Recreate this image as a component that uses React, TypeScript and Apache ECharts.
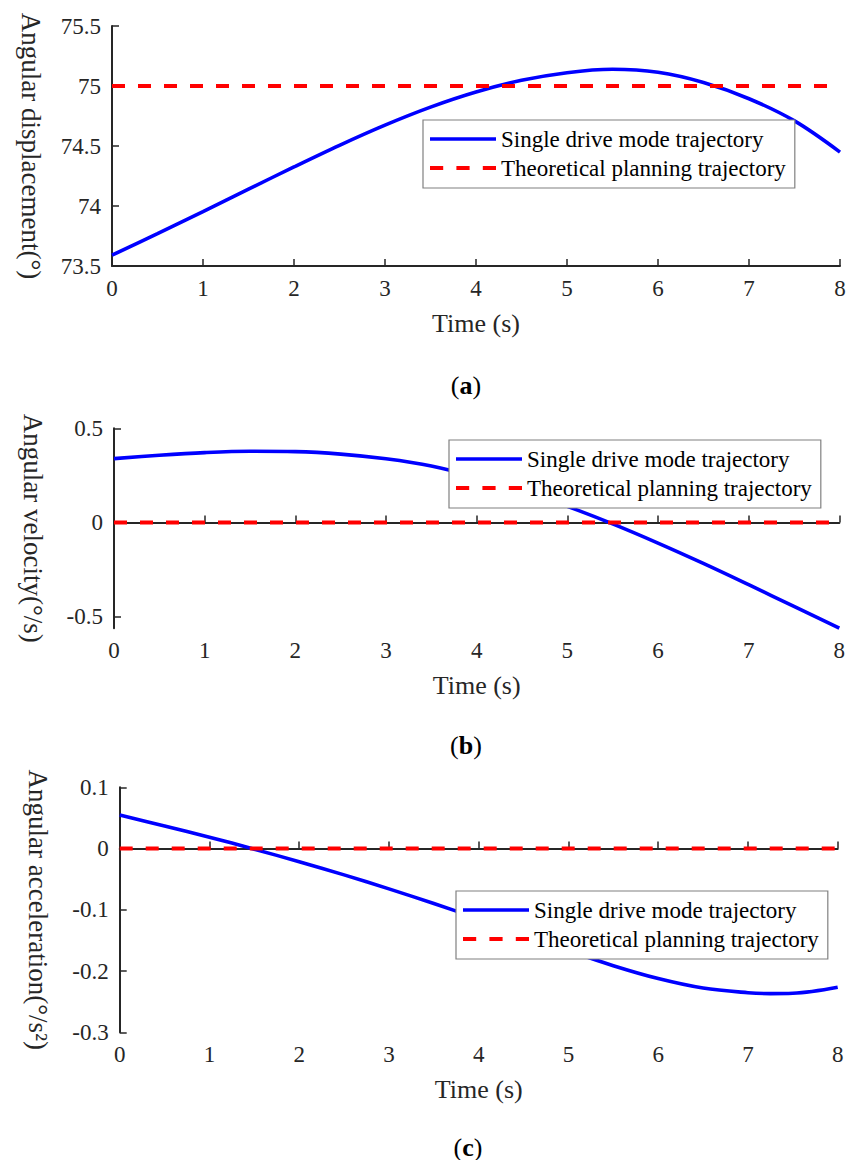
import React, { useEffect, useRef } from "react";
import * as echarts from "echarts";

// ---- data ----
const time = [0, 0.5, 1, 1.5, 2, 2.5, 3, 3.5, 4, 4.5, 5, 5.5, 6, 6.5, 7, 7.5, 8];
const dispSingle = [73.59, 73.77, 73.954, 74.14, 74.326, 74.506, 74.674, 74.824, 74.95, 75.047, 75.111, 75.139, 75.114, 75.029, 74.894, 74.709, 74.449];
const velSingle = [0.339, 0.357, 0.371, 0.378, 0.376, 0.363, 0.338, 0.3, 0.24, 0.167, 0.085, -0.008, -0.11, -0.218, -0.331, -0.446, -0.562];
const accTime = [0, 0.5, 1, 1.5, 2, 2.5, 3, 3.5, 4, 4.5, 5, 5.5, 6, 6.5, 7, 7.25, 7.5, 8];
const accSingle = [0.0546, 0.037, 0.0185, -0.001, -0.0215, -0.043, -0.0658, -0.0898, -0.1148, -0.1408, -0.1668, -0.1913, -0.2123, -0.2278, -0.2353, -0.2368, -0.2363, -0.2265];
const theoryTime = [0, 8];
const dispTheory = [75, 75];
const velTheory = [0, 0];
const accTheory = [0, 0];

const legendNames = ["Single drive mode trajectory", "Theoretical planning trajectory"];
const yNames = ["Angular displacement(°)", "Angular velocity(°/s)", "Angular acceleration(°/s²)"];
const xName = "Time (s)";
const panelLetters = ["a", "b", "c"];
const yMins = [73.5, -0.5626, -0.3];
const yMaxs = [75.5, 0.5, 0.1];
const yIntervals = [0.5, 0.5, 0.1];
const velTicks = [-0.5, 0, 0.5];

const FONT = "'Liberation Serif', 'Times New Roman', serif";
const AXIS_COLOR = "#262626";
const BLUE = "#0000ff";
const RED = "#ff0000";

// legend icons: solid line and dashed line drawn as paths
const solidIcon = "path://M0,0H66V3.4H0Z";
const dashedIcon = "path://M0,0H13V3.8H0Z M26,0H39V3.8H26Z M52,0H65V3.8H52Z";

// layout (pixels)
const grids = [
  { left: 112, top: 26, width: 728, height: 240 },
  { left: 114, top: 428.3, width: 725.3, height: 200 },
  { left: 119.7, top: 787.3, width: 718, height: 245 },
];
const legendPos = [
  { left: 423, top: 120 },
  { left: 449, top: 440 },
  { left: 456, top: 891 },
];
const panelLabelPos = [
  { x: 466, y: 385 },
  { x: 466, y: 745 },
  { x: 468, y: 1147 },
];

export default function App() {
  const ref = useRef<HTMLDivElement>(null);
  useEffect(() => {
    if (!ref.current) return;
    const chart = echarts.init(ref.current, null, { renderer: "svg" });
    const singleTimes = [time, time, accTime];
    const singles = [dispSingle, velSingle, accSingle];
    const theories = [dispTheory, velTheory, accTheory];

    const xAxis = grids.map((_, i) => ({
      type: "value",
      gridIndex: i,
      min: 0,
      max: 8,
      interval: 1,
      name: xName,
      nameLocation: "middle",
      nameGap: 44,
      nameTextStyle: { fontFamily: FONT, fontSize: 26, color: AXIS_COLOR },
      axisLine: { show: true, lineStyle: { color: AXIS_COLOR, width: 2 } },
      axisTick: { show: true, inside: true, length: 7, lineStyle: { color: AXIS_COLOR, width: 1.5 } },
      axisLabel: { fontFamily: FONT, fontSize: 23, color: AXIS_COLOR, margin: 11, showMinLabel: true, showMaxLabel: true },
      splitLine: { show: false },
    }));

    const yAxis = grids.map((_, i) => {
      const base: any = {
        type: "value",
        gridIndex: i,
        min: yMins[i],
        max: yMaxs[i],
        name: yNames[i],
        nameLocation: "middle",
        nameRotate: -90,
        nameGap: 68,
        nameTextStyle: { fontFamily: FONT, fontSize: 27, color: AXIS_COLOR },
        axisLine: { show: true, lineStyle: { color: AXIS_COLOR, width: 2 } },
        axisTick: { show: true, inside: true, length: 7, lineStyle: { color: AXIS_COLOR, width: 1.5 } },
        axisLabel: { fontFamily: FONT, fontSize: 23, color: AXIS_COLOR, margin: 11, showMinLabel: true, showMaxLabel: true },
        splitLine: { show: false },
      };
      if (i === 1) {
        base.axisLabel.customValues = velTicks;
        base.axisTick.customValues = velTicks;
      } else {
        base.interval = yIntervals[i];
      }
      return base;
    });

    const series: any[] = [];
    grids.forEach((_, i) => {
      series.push({
        type: "line",
        name: legendNames[0],
        xAxisIndex: i,
        yAxisIndex: i,
        data: singleTimes[i].map((t, k) => [t, singles[i][k]]),
        symbol: "none",
        showSymbol: false,
        smooth: 0.35,
        lineStyle: { color: BLUE, width: 3.6 },
        itemStyle: { color: BLUE },
        z: 2,
      });
      series.push({
        type: "line",
        name: legendNames[1],
        xAxisIndex: i,
        yAxisIndex: i,
        data: theoryTime.map((t, k) => [t, theories[i][k]]),
        symbol: "none",
        showSymbol: false,
        lineStyle: { color: RED, width: 4, type: [13, 13] },
        itemStyle: { color: RED },
        z: 3,
      });
    });

    const legend = legendPos.map((p) => ({
      show: true,
      left: p.left,
      top: p.top,
      orient: "vertical",
      data: [
        { name: legendNames[0], icon: solidIcon, itemStyle: { color: BLUE } },
        { name: legendNames[1], icon: dashedIcon, itemStyle: { color: RED } },
      ],
      itemWidth: 66,
      itemHeight: 24,
      itemGap: 5,
      padding: [7, 9, 8, 7],
      backgroundColor: "#ffffff",
      borderColor: "#808080",
      borderWidth: 1.2,
      borderRadius: 0,
      selectedMode: false,
      textStyle: { fontFamily: FONT, fontSize: 23, color: "#000000", lineHeight: 24 },
      z: 10,
    }));

    const graphic = panelLabelPos.map((p, i) => ({
      type: "text",
      x: p.x,
      y: p.y,
      style: {
        text: `{n|(}{b|${panelLetters[i]}}{n|)}`,
        align: "center",
        verticalAlign: "middle",
        rich: {
          n: { fontFamily: FONT, fontSize: 26, fill: "#000" },
          b: { fontFamily: FONT, fontSize: 26, fontWeight: "bold", fill: "#000" },
        },
      },
    }));

    chart.setOption({
      animation: false,
      backgroundColor: "#ffffff",
      grid: grids.map((g) => ({ ...g, containLabel: false, outerBoundsMode: "none" })),
      xAxis,
      yAxis,
      series,
      legend,
      graphic,
      tooltip: { show: false },
    } as any);
    return () => chart.dispose();
  }, []);

  return (
    <div
      ref={ref}
      style={{ position: "absolute", left: 0, top: 0, width: 846, height: 1160, background: "#fff" }}
    />
  );
}
